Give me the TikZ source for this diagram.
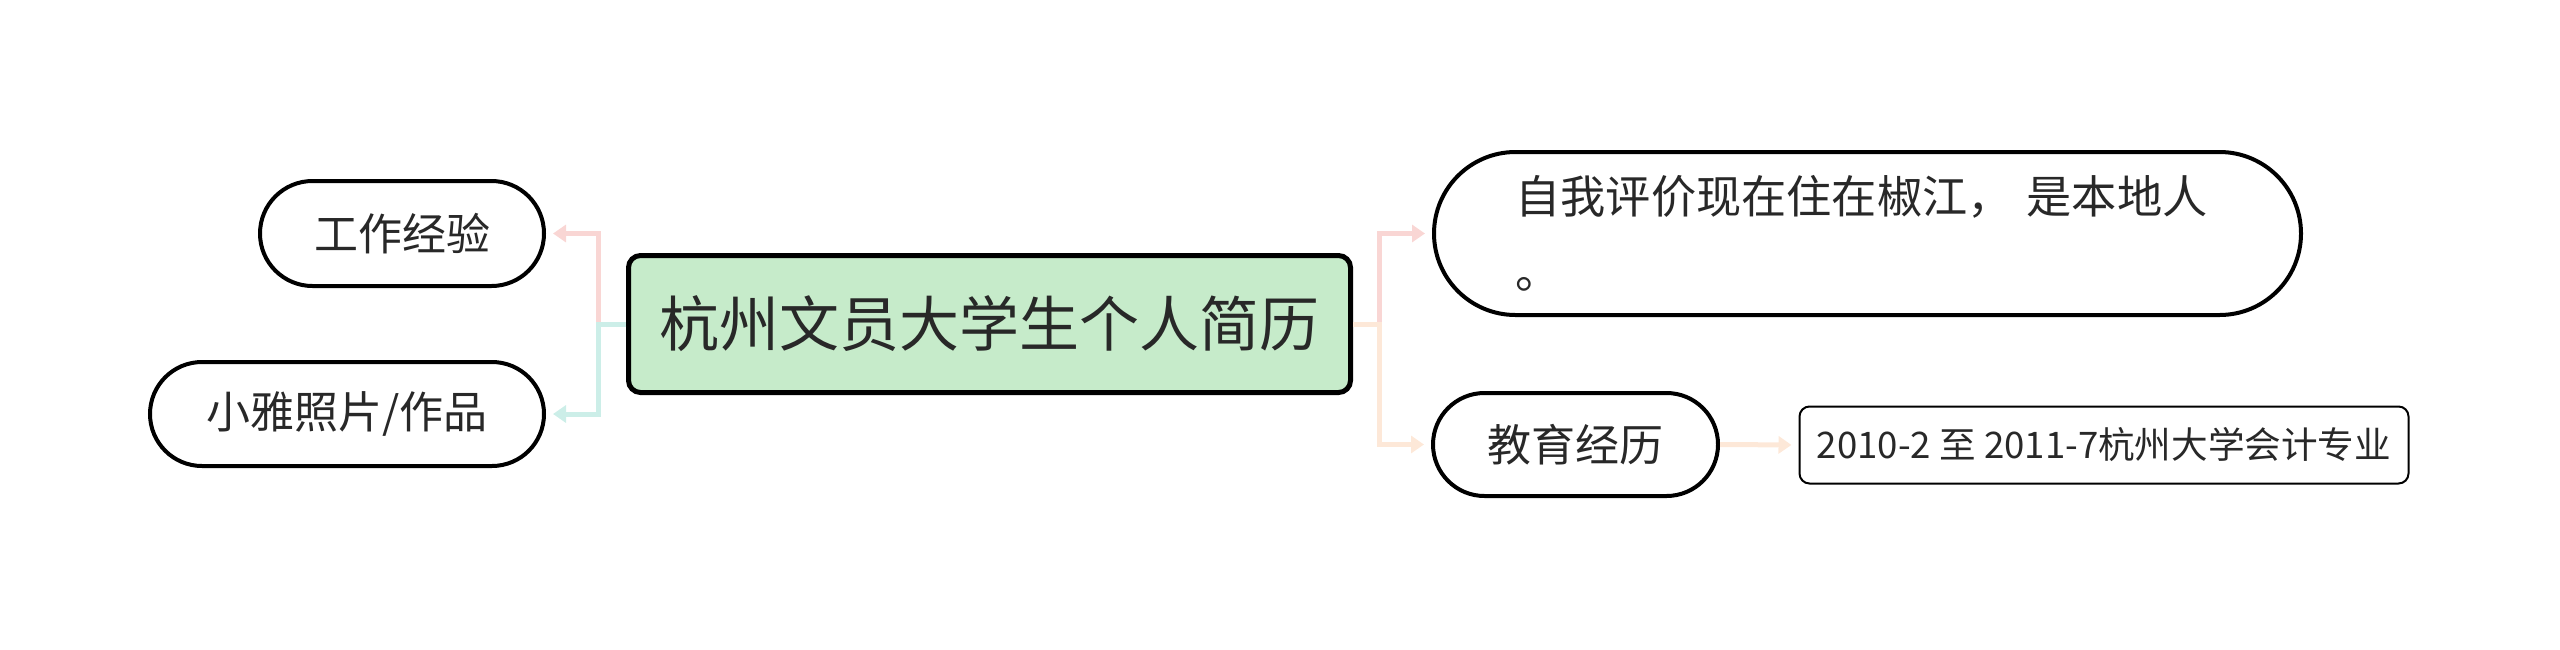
\documentclass[tikz,border=0pt]{standalone}
\usepackage{fontspec}
\setmainfont{Noto Sans CJK SC}
\usetikzlibrary{arrows.meta,shapes.misc}
\definecolor{rootgreen}{RGB}{198,235,202}
\definecolor{linkpink}{RGB}{249,214,212}
\definecolor{linkteal}{RGB}{204,238,232}
\definecolor{linkpeach}{RGB}{253,232,216}
\definecolor{txtgray}{RGB}{40,40,40}
\tikzset{
  rootbox/.style={draw=black, line width=2.5pt, fill=rootgreen, rounded corners=6pt, text=txtgray,
    font=\fontsize{30pt}{36pt}\selectfont, inner sep=0pt, minimum width=361pt, minimum height=68.5pt},
  pill/.style={rounded rectangle, draw=black, line width=2pt, fill=white, text=txtgray,
    font=\fontsize{22pt}{37.5pt}\selectfont, inner sep=0pt},
  leafbox/.style={draw=black, line width=1pt, fill=white, rounded corners=5pt, text=txtgray,
    font=\fontsize{18.3pt}{22pt}\selectfont, inner sep=0pt, minimum width=304.5pt, minimum height=38.5pt},
  link/.style={line width=2.5pt, -{Triangle[length=6.5pt,width=8.5pt]}, shorten >=3.5pt}
}

\begin{document}
\begin{tikzpicture}[x=0.5pt,y=-0.5pt]
			\useasboundingbox (0,0) rectangle (2560,649);
			%%%%% NODES %%%%%
			\node[rootbox] (root) at (989.5,324) {杭州文员大学生个人简历};
			
			\node[pill, minimum width=142pt, minimum height=52.5pt] (work) at (402,233.5) {工作经验};
			\node[pill, minimum width=197pt, minimum height=52pt] (photo) at (347,414) {小雅照片/作品};
			
			\node[pill, minimum width=433.5pt, minimum height=81.5pt, text width=352pt, align=left,
			  font=\fontsize{22.6pt}{37.5pt}\selectfont] (self) at (1867.5,233.5) {自我评价现在住在椒江，\hspace{7pt}是本地人\\。};
			\node[pill, minimum width=142.5pt, minimum height=51.5pt] (edu) at (1575.5,444.5) {教育经历};
			
			\node[leafbox] (major) at (2104,445) {2010-2 至 2011-7杭州大学会计专业};
			
			%%%%% LINKS %%%%%
			\coordinate (ljoint) at (598,324);
			\coordinate (rjoint) at (1379,324);
			
			\draw[link, linkpink] (root.west) -- (ljoint) |- (work.east);
			\draw[link, linkteal] (root.west) -- (ljoint) |- (photo.east);
			
			\draw[link, linkpink] (root.east) -- (rjoint) |- (self.west);
			\draw[link, linkpeach] (root.east) -- (rjoint) |- (edu.west);
			
			\draw[link, linkpeach] (edu.east) -- (major.west);
			%%%%% END %%%%%
		\end{tikzpicture}
\end{document}
